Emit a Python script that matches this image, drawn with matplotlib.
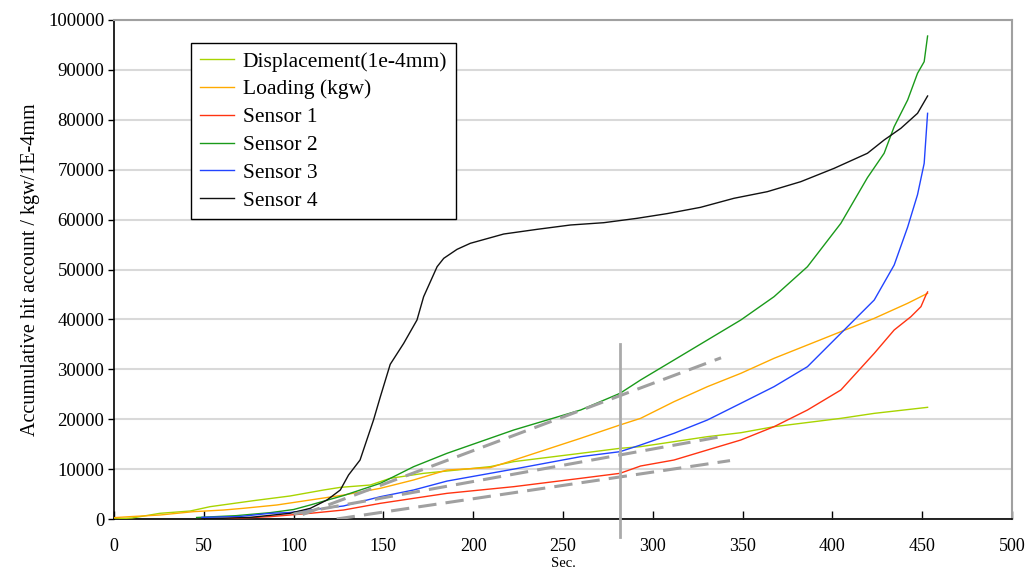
import matplotlib
matplotlib.use("Agg")
import matplotlib.pyplot as plt

plt.rcParams['font.family'] = ['Liberation Serif', 'DejaVu Serif']

# ---- data ----
disp_x = [0, 10, 25.6, 42.4, 53.5, 77.6, 98, 116.7, 126, 142.7, 153.8, 172.4, 191, 209.6, 222.6, 259.8, 281.7, 293.2, 330.4, 349, 367.5, 404.7, 423.3, 453]
disp_y = [0, 200, 1140, 1600, 2470, 3670, 4610, 5810, 6340, 6810, 8150, 9150, 9820, 10500, 11500, 13160, 14160, 14500, 16500, 17290, 18500, 20170, 21170, 22380]

load_x = [0, 8.9, 25.6, 44.2, 61, 72, 90.7, 109.3, 127.8, 148.3, 166.8, 185.4, 209.6, 222.6, 259.8, 281.7, 293.2, 311.8, 330.4, 349, 367.5, 386.1, 404.7, 423.3, 441.9, 453]
load_y = [270, 470, 800, 1470, 1800, 2140, 2810, 3810, 4800, 6150, 7820, 9820, 10300, 11800, 16170, 18840, 20170, 23510, 26520, 29190, 32200, 34870, 37540, 40210, 43230, 45230]

s1_x = [60, 87, 109.3, 127.8, 148.3, 166.8, 185.4, 222.6, 259.8, 281.7, 293.2, 311.8, 330.4, 349, 367.5, 386.1, 404.7, 423.3, 434.4, 443.7, 449.3, 452.1, 453]
s1_y = [0, 470, 1140, 1800, 3140, 4140, 5140, 6480, 8150, 9150, 10620, 11820, 13830, 15830, 18500, 21840, 25850, 33200, 37880, 40540, 42550, 44890, 45500]

s2_x = [46, 68, 87, 100, 109.3, 127.8, 148.3, 166.8, 185.4, 222.6, 259.8, 281.7, 293.2, 311.8, 330.4, 349, 367.5, 386.1, 404.7, 419.5, 428.8, 434.4, 441.9, 447.4, 451.1, 453]
s2_y = [300, 670, 1270, 1900, 2810, 4700, 7150, 10480, 13160, 17840, 21840, 25180, 27860, 31860, 35870, 39880, 44550, 50560, 59250, 68400, 73290, 78630, 83970, 89320, 91650, 96790]

s3_x = [49, 70, 87, 98, 109.3, 127.8, 148.3, 166.8, 185.4, 222.6, 259.8, 281.7, 293.2, 311.8, 330.4, 349, 367.5, 386.1, 404.7, 423.3, 434.4, 441.9, 447.4, 451.1, 453]
s3_y = [330, 500, 1140, 1300, 1800, 2610, 4470, 5810, 7600, 10000, 12490, 13490, 14830, 17170, 19840, 23180, 26520, 30520, 37210, 43890, 50900, 58500, 65000, 71270, 81300]

s4_x = [49, 76, 98, 109.3, 118.6, 126, 130.6, 137, 144.5, 148.3, 153.8, 161.3, 168.7, 172.4, 179.9, 183.6, 191, 198.4, 217, 235.6, 254.2, 272.7, 291.3, 308, 326.6, 345.2, 363.8, 382.4, 401, 419.5, 428.8, 438.1, 447.4, 453]
s4_y = [0, 330, 1140, 2140, 3810, 5810, 8820, 11820, 19840, 24500, 31000, 35200, 39880, 44550, 50560, 52240, 54040, 55250, 57110, 58050, 58920, 59380, 60260, 61200, 62460, 64270, 65600, 67600, 70280, 73290, 75950, 78290, 81300, 84770]

# tangent (dashed) lines: start/end points
tan_x = [[105, 338], [100, 338], [124, 343]]
tan_y = [[900, 32300], [1000, 16500], [0, 11700]]

vline_x = 282
vline_y = [-3700, 35000]

labels = ["Displacement(1e-4mm)", "Loading (kgw)", "Sensor 1", "Sensor 2", "Sensor 3", "Sensor 4"]
colors = ["#a8d400", "#ffaa00", "#ff3311", "#1a9a1a", "#2244ff", "#111111"]

xticks = list(range(0, 501, 50))
yticks = list(range(0, 100001, 10000))

# ---- figure ----
fig = plt.figure(figsize=(10.27, 5.70), dpi=100)
ax = fig.add_axes([114/1027, 51/570, 898/1027, 499/570])

series = [(disp_x, disp_y), (load_x, load_y), (s1_x, s1_y), (s2_x, s2_y), (s3_x, s3_y), (s4_x, s4_y)]
for (xs, ys), lab, c in zip(series, labels, colors):
    ax.plot(xs, ys, color=c, lw=1.0, label=lab, zorder=3)

for xs, ys in zip(tan_x, tan_y):
    ax.plot(xs, ys, color="#a0a0a0", lw=2.2, dashes=(6, 3), zorder=4)

ax.plot([vline_x, vline_x], vline_y, color="#aaaaaa", lw=2, clip_on=False, zorder=4)

ax.set_xlim(0, 500)
ax.set_ylim(0, 100000)
ax.set_xticks(xticks)
ax.set_yticks(yticks)
ax.set_xticklabels([str(t) for t in xticks], fontsize=13)
ax.set_yticklabels([str(t) for t in yticks], fontsize=13.5)
ax.tick_params(axis='x', direction='in', length=6, width=1, pad=14)
ax.tick_params(axis='y', direction='out', length=4, width=1, pad=3)
ax.yaxis.grid(True, color="#d9d9d9", lw=1.5, zorder=0)
ax.set_axisbelow(True)

for s in ['top', 'right']:
    ax.spines[s].set_color("#a0a0a0")
    ax.spines[s].set_linewidth(1.5)
for s in ['left', 'bottom']:
    ax.spines[s].set_color("black")
    ax.spines[s].set_linewidth(1.2)

ax.set_ylabel("Accumulative hit account / kgw/1E-4mm", fontsize=14.5, labelpad=6)
ax.set_xlabel("Sec.", fontsize=10.5, labelpad=1)

leg = ax.legend(loc='upper left', bbox_to_anchor=(0.0857, 0.954), fontsize=15.5,
                frameon=True, fancybox=False, edgecolor='black', framealpha=1,
                handlelength=1.6, handletextpad=0.4, labelspacing=0.36,
                borderpad=0.4, borderaxespad=0)
leg.get_frame().set_linewidth(1.0)

fig.savefig("out.png", dpi=100)
